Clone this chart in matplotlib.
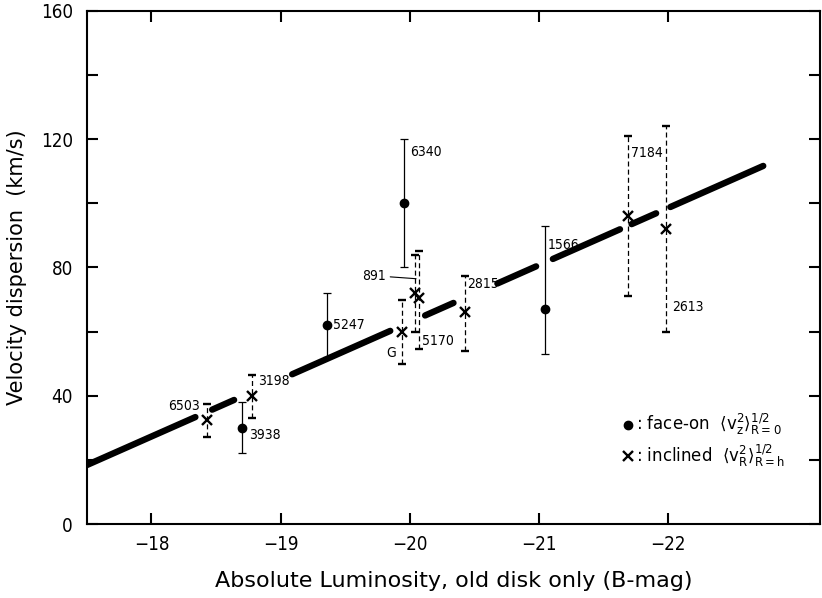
import numpy as np
import matplotlib as mpl
mpl.use('Agg')
import matplotlib.pyplot as plt
from matplotlib import font_manager
from matplotlib.lines import Line2D
from matplotlib.ticker import MultipleLocator, FixedLocator

# Face-on galaxies: <v_z^2>^1/2 at R=0
face_names = ['3938', '5247', '6340', '1566']
face_mag = [-18.70, -19.36, -19.96, -21.05]
face_sig = [30., 62., 100., 67.]
face_lo = [22., 52., 80., 53.]
face_hi = [38., 72., 120., 93.]

# Inclined galaxies: <v_R^2>^1/2 at R=h
incl_names = ['6503', '3198', 'G', '891', '5170', '2815', '7184', '2613']
incl_mag = [-18.43, -18.78, -19.94, -20.04, -20.07, -20.43, -21.69, -21.99]
incl_sig = [32.5, 40., 60., 72., 70.5, 66., 96., 92.]
incl_lo = [27., 33., 50., 60., 54.5, 54., 71., 60.]
incl_hi = [37.5, 46.5, 70., 84., 85., 77.5, 121., 124.]

# Linear relation, v = a + b * (-M - 17.5), drawn in broken pieces
fit_a = 18.4
fit_b = 17.8
fit_segments = [(-17.50, -18.34), (-18.47, -18.64), (-19.09, -19.85),
                (-20.12, -20.34), (-20.68, -20.98), (-21.11, -21.63),
                (-21.72, -21.91), (-22.02, -22.74)]

mag_ticks = [-18, -19, -20, -21, -22]

# label offsets in pixels (dx, dy, ha)
label_pos = {'3938': (7, -7, 'left'), '5247': (6, 0, 'left'),
             '6340': (6, 51, 'left'), '1566': (3, 64, 'left'),
             '6503': (-7, 14, 'right'), '3198': (6, 15, 'left'),
             'G': (-6, -21, 'right'), '5170': (3, -43, 'left'),
             '2815': (2, 28, 'left'), '7184': (3, 63, 'left'),
             '2613': (6, -78, 'left')}

# condensed face for numbers if available
condensed = any(f.name == 'DejaVu Sans' and f.stretch == 'condensed'
                for f in font_manager.fontManager.ttflist)
if condensed:
    num_kw = dict(family='DejaVu Sans', stretch='condensed', size=10)
    tick_kw = dict(family='DejaVu Sans', stretch='condensed', size=13.5)
else:
    num_kw = dict(family='DejaVu Sans', size=9.2)
    tick_kw = dict(family='DejaVu Sans', size=12)

plt.rcParams['mathtext.default'] = 'regular'

fig = plt.figure(figsize=(8.22, 5.98), dpi=100)
ax = fig.add_axes([0.1058, 0.1237, 0.8918, 0.858])

# fitted relation
for m1, m2 in fit_segments:
    mm = np.array([m1, m2])
    ax.plot(mm, fit_a + fit_b * (-mm - 17.5), color='black', lw=4.6,
            solid_capstyle='round', zorder=1)

# face-on points, solid error bars
face_err = [np.array(face_sig) - np.array(face_lo), np.array(face_hi) - np.array(face_sig)]
ax.errorbar(face_mag, face_sig, yerr=face_err, fmt='o', color='black', ms=6,
            elinewidth=0.9, capsize=3, capthick=0.9, zorder=3)

# inclined points, dashed error bars
incl_err = [np.array(incl_sig) - np.array(incl_lo), np.array(incl_hi) - np.array(incl_sig)]
eb = ax.errorbar(incl_mag, incl_sig, yerr=incl_err, fmt='x', color='black', ms=6.5,
                 mew=1.7, elinewidth=0.9, capsize=3, capthick=0.9, zorder=3)
eb[2][0].set_linestyle((0, (4, 2.5)))

# galaxy names
for names, mags, sigs in [(face_names, face_mag, face_sig), (incl_names, incl_mag, incl_sig)]:
    for name, m, s in zip(names, mags, sigs):
        if name == '891':
            ax.annotate(name, xy=(m - 0.01, s + 4.5), xytext=(-30, 3),
                        textcoords='offset pixels', ha='right', va='center',
                        arrowprops=dict(arrowstyle='-', lw=0.8, color='black',
                                        shrinkA=1, shrinkB=0), **num_kw)
            continue
        dx, dy, ha = label_pos[name]
        ax.annotate(name, xy=(m, s), xytext=(dx, dy), textcoords='offset pixels',
                    ha=ha, va='center', **num_kw)

ax.set_xlim(-17.5, -23.18)
ax.set_ylim(0, 160)
ax.xaxis.set_major_locator(FixedLocator(mag_ticks))
ax.yaxis.set_major_locator(MultipleLocator(40))
ax.yaxis.set_minor_locator(MultipleLocator(20))
ax.tick_params(which='both', direction='in', top=True, right=True,
               length=8, width=1.5)
ax.tick_params(axis='x', pad=8)
ax.tick_params(axis='y', pad=10)
for lab in ax.get_xticklabels() + ax.get_yticklabels():
    lab.update(tick_kw)
for sp in ax.spines.values():
    sp.set_linewidth(1.5)

ax.set_xlabel('Absolute Luminosity, old disk only (B-mag)', size=16, labelpad=12)
ax.set_ylabel('Velocity dispersion  (km/s)', size=15, labelpad=10)

handles = [Line2D([], [], ls='none', marker='o', color='black', ms=6),
           Line2D([], [], ls='none', marker='x', color='black', ms=6.5, mew=1.7)]
labels = [r': face-on  $\langle v_z^2\rangle^{1/2}_{R=0}$',
          r': inclined  $\langle v_R^2\rangle^{1/2}_{R=h}$']
ax.legend(handles, labels, loc='upper left', bbox_to_anchor=(0.72, 0.235),
          frameon=False, fontsize=12, handlelength=0.6, handletextpad=0.2,
          labelspacing=0.3, borderpad=0)

fig.savefig('out.png', dpi=100)
